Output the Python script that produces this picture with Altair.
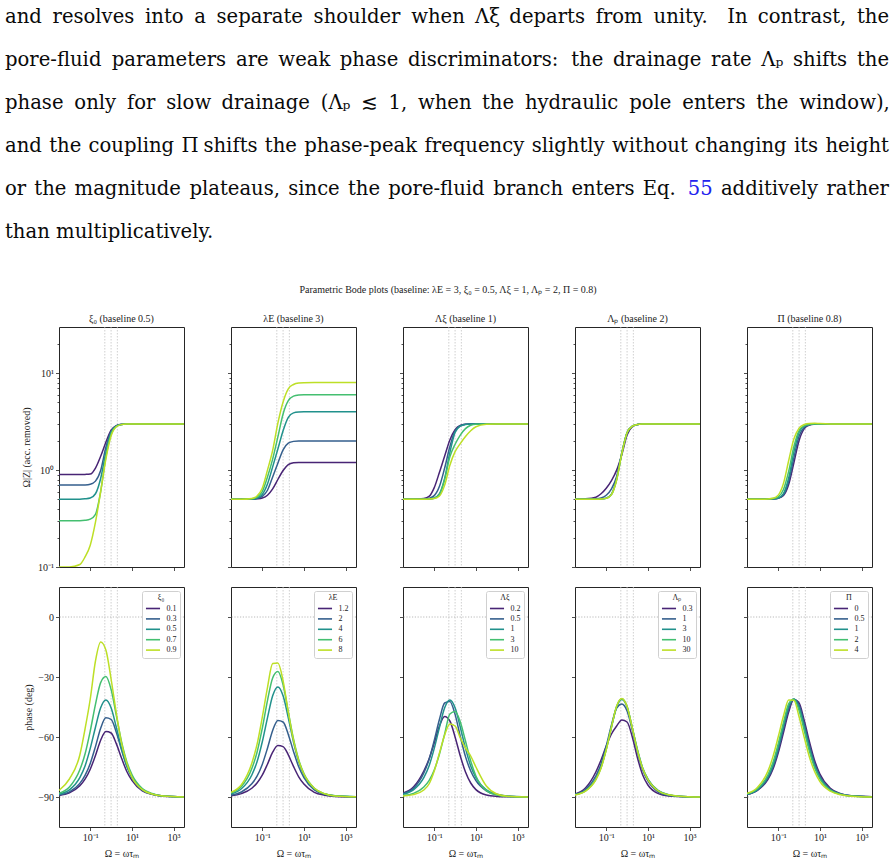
import altair as alt
import pandas as pd

# Frequency grid shared by every curve, Omega = omega * tau_m
OMEGA = [0.00316, 0.01, 0.0316, 0.0562, 0.1, 0.178, 0.316, 0.562, 1.0,
         1.78, 3.16, 5.62, 10.0, 31.6, 100.0, 316.0, 3162.0]

VIRIDIS5 = ["#482475", "#355f8d", "#21918c", "#44bf70", "#bddf26"]
GUIDE_OMEGA = [0.5, 1.0, 2.0]
PHASE_REFS = [0.0, -90.0]
X_TICKS = [0.1, 10.0, 1000.0]
MAG_TICKS = [0.1, 0.2, 0.3, 0.4, 0.5, 0.6, 0.7, 0.8, 0.9,
             1, 2, 3, 4, 5, 6, 7, 8, 9, 10, 20]
PHASE_TICKS = [0, -30, -60, -90]

PARAGRAPH = [
    "and resolves into a separate shoulder when Λξ departs from unity. In contrast, the",
    "pore-fluid parameters are weak phase discriminators: the drainage rate Λₚ shifts the",
    "phase only for slow drainage (Λₚ ≲ 1, when the hydraulic pole enters the window),",
    "and the coupling Π shifts the phase-peak frequency slightly without changing its height",
    "or the magnitude plateaus, since the pore-fluid branch enters Eq. 55 additively rather",
    "than multiplicatively.",
]
EQ_REF = "55"
SUPTITLE = "Parametric Bode plots  (baseline: λE = 3, ξ₀ = 0.5, Λξ = 1, Λₚ = 2, Π = 0.8)"

# --- xi_0 sweep ---
XI0_TITLE = "ξ₀  (baseline 0.5)"
XI0_SYMBOL = "ξ₀"
XI0_LABELS = ["0.1", "0.3", "0.5", "0.7", "0.9"]
XI0_MAG = [
    [0.9, 0.9, 0.9, 0.903, 0.91, 1.05, 1.39, 1.94, 2.58, 2.88, 2.97, 2.99, 3.0, 3.0, 3.0, 3.0, 3.0],
    [0.7, 0.7, 0.7, 0.703, 0.715, 0.77, 0.99, 1.72, 2.5, 2.86, 2.96, 2.99, 3.0, 3.0, 3.0, 3.0, 3.0],
    [0.5, 0.5, 0.5, 0.505, 0.515, 0.57, 0.82, 1.52, 2.45, 2.84, 2.96, 2.99, 3.0, 3.0, 3.0, 3.0, 3.0],
    [0.3, 0.3, 0.3, 0.303, 0.312, 0.35, 0.6, 1.37, 2.35, 2.83, 2.96, 2.99, 3.0, 3.0, 3.0, 3.0, 3.0],
    [0.1, 0.1, 0.106, 0.127, 0.168, 0.29, 0.6, 1.3, 2.25, 2.8, 2.95, 2.99, 3.0, 3.0, 3.0, 3.0, 3.0],
]
XI0_PHASE = [
    [-89.2, -87.9, -84.4, -81.1, -76.1, -69.2, -61.6, -57.3, -58.0, -63.3, -70.5, -77.1, -81.7, -87.0, -88.8, -89.6, -89.9],
    [-89.0, -87.4, -83.2, -79.2, -73.2, -64.8, -55.6, -50.4, -51.2, -57.6, -66.4, -74.4, -80.0, -86.4, -88.6, -89.5, -89.9],
    [-88.6, -86.4, -80.3, -74.5, -65.7, -55.1, -45.4, -41.5, -45.4, -55.1, -65.7, -74.5, -80.3, -86.4, -88.6, -89.5, -90.0],
    [-88.1, -85.0, -76.4, -68.5, -57.0, -43.7, -32.8, -29.8, -36.2, -49.2, -62.2, -72.2, -78.8, -85.8, -88.4, -89.5, -89.9],
    [-86.7, -81.0, -69.0, -56.0, -41.0, -22.0, -12.5, -16.5, -31.0, -48.0, -63.0, -73.0, -80.0, -86.3, -88.6, -89.5, -90.0],
]

# --- lambda_E sweep ---
LAME_TITLE = "λE  (baseline 3)"
LAME_SYMBOL = "λE"
LAME_LABELS = ["1.2", "2", "4", "6", "8"]
LAME_MAG = [
    [0.5, 0.5, 0.5, 0.505, 0.515, 0.55, 0.64, 0.8, 0.99, 1.14, 1.19, 1.2, 1.2, 1.2, 1.2, 1.2, 1.2],
    [0.5, 0.5, 0.502, 0.51, 0.535, 0.62, 0.85, 1.18, 1.62, 1.9, 1.98, 2.0, 2.0, 2.0, 2.0, 2.0, 2.0],
    [0.5, 0.5, 0.503, 0.515, 0.56, 0.72, 1.08, 1.65, 2.55, 3.5, 3.9, 3.98, 4.0, 4.0, 4.0, 4.0, 4.0],
    [0.5, 0.5, 0.505, 0.525, 0.6, 0.85, 1.3, 2.2, 3.8, 5.2, 5.8, 5.96, 6.0, 6.0, 6.0, 6.0, 6.0],
    [0.5, 0.5, 0.51, 0.54, 0.65, 1.0, 1.6, 3.05, 5.05, 6.9, 7.65, 7.92, 7.98, 8.0, 8.0, 8.0, 8.0],
]
LAME_PHASE = [
    [-89.4, -88.3, -85.6, -83.0, -79.1, -73.6, -67.6, -64.3, -64.8, -68.9, -74.7, -79.9, -83.5, -87.7, -89.1, -89.7, -90.0],
    [-89.1, -87.5, -83.4, -79.6, -73.7, -65.6, -56.7, -51.7, -52.5, -58.7, -67.2, -74.9, -80.3, -86.5, -88.6, -89.5, -89.9],
    [-88.5, -85.9, -79.0, -72.4, -62.5, -50.4, -39.4, -35.0, -39.4, -50.4, -62.5, -72.4, -79.0, -85.9, -88.5, -89.4, -89.9],
    [-88.0, -84.8, -75.8, -67.6, -55.7, -41.8, -30.5, -27.3, -33.9, -47.5, -61.0, -71.4, -78.3, -85.6, -88.4, -89.4, -89.9],
    [-87.6, -83.9, -73.1, -63.7, -50.2, -35.3, -23.3, -23.0, -31.9, -47.5, -61.6, -71.8, -78.5, -85.6, -88.4, -89.5, -89.9],
]

# --- Lambda_xi sweep ---
LXI_TITLE = "Λξ  (baseline 1)"
LXI_SYMBOL = "Λξ"
LXI_LABELS = ["0.2", "0.5", "1", "3", "10"]
LXI_MAG = [
    [0.5, 0.5, 0.51, 0.535, 0.66, 0.95, 1.4, 2.05, 2.62, 2.9, 2.98, 3.0, 3.0, 3.0, 3.0, 3.0, 3.0],
    [0.5, 0.5, 0.503, 0.512, 0.545, 0.68, 1.05, 1.75, 2.55, 2.87, 2.97, 2.99, 3.0, 3.0, 3.0, 3.0, 3.0],
    [0.5, 0.5, 0.5, 0.505, 0.515, 0.57, 0.82, 1.52, 2.45, 2.84, 2.96, 2.99, 3.0, 3.0, 3.0, 3.0, 3.0],
    [0.5, 0.5, 0.5, 0.503, 0.512, 0.56, 0.8, 1.37, 1.85, 2.3, 2.68, 2.9, 2.98, 3.0, 3.0, 3.0, 3.0],
    [0.5, 0.5, 0.5, 0.502, 0.508, 0.54, 0.7, 1.12, 1.55, 1.88, 2.22, 2.55, 2.8, 2.97, 3.0, 3.0, 3.0],
]
LXI_PHASE = [
    [-88.0, -85.0, -77.0, -71.0, -63.0, -54.5, -49.8, -52.0, -60.0, -69.5, -77.5, -83.0, -86.3, -89.0, -89.7, -89.9, -90.0],
    [-88.3, -85.7, -78.0, -71.3, -61.7, -51.1, -43.0, -42.2, -48.7, -59.8, -69.8, -77.0, -81.8, -86.9, -88.8, -89.6, -90.0],
    [-88.6, -86.4, -80.3, -74.5, -65.7, -55.1, -45.4, -41.5, -45.4, -55.1, -65.7, -74.5, -80.3, -86.4, -88.6, -89.5, -90.0],
    [-89.3, -88.2, -85.0, -81.8, -76.5, -68.5, -58.5, -48.5, -47.3, -52.5, -62.0, -72.0, -79.5, -86.8, -89.0, -89.7, -90.0],
    [-89.5, -88.8, -86.5, -83.5, -77.0, -68.0, -59.0, -53.5, -54.5, -60.5, -65.5, -69.5, -75.0, -84.5, -88.5, -89.6, -90.0],
]

# --- Lambda_p sweep ---
LP_TITLE = "Λₚ  (baseline 2)"
LP_SYMBOL = "Λₚ"
LP_LABELS = ["0.3", "1", "3", "10", "30"]
LP_MAG = [
    [0.5, 0.505, 0.525, 0.57, 0.65, 0.78, 1.0, 1.45, 2.3, 2.8, 2.95, 2.99, 3.0, 3.0, 3.0, 3.0, 3.0],
    [0.5, 0.5, 0.505, 0.515, 0.55, 0.64, 0.86, 1.5, 2.42, 2.83, 2.96, 2.99, 3.0, 3.0, 3.0, 3.0, 3.0],
    [0.5, 0.5, 0.5, 0.504, 0.514, 0.566, 0.81, 1.51, 2.44, 2.84, 2.96, 2.99, 3.0, 3.0, 3.0, 3.0, 3.0],
    [0.5, 0.5, 0.5, 0.503, 0.512, 0.56, 0.8, 1.5, 2.44, 2.84, 2.96, 2.99, 3.0, 3.0, 3.0, 3.0, 3.0],
    [0.5, 0.5, 0.5, 0.503, 0.511, 0.558, 0.79, 1.49, 2.43, 2.84, 2.96, 2.99, 3.0, 3.0, 3.0, 3.0, 3.0],
]
LP_PHASE = [
    [-88.5, -85.5, -77.5, -71.5, -64.5, -58.5, -54.5, -51.5, -52.5, -60.0, -70.5, -79.0, -84.0, -88.3, -89.5, -89.8, -90.0],
    [-88.7, -86.3, -79.5, -73.5, -64.5, -54.0, -45.5, -43.5, -47.0, -56.5, -67.5, -76.5, -82.0, -87.5, -89.2, -89.7, -90.0],
    [-88.8, -86.8, -80.8, -75.0, -66.0, -55.0, -45.0, -41.3, -45.0, -55.5, -66.5, -75.5, -81.0, -86.8, -88.8, -89.6, -90.0],
    [-88.9, -87.0, -81.2, -75.4, -66.2, -55.0, -44.6, -40.9, -44.8, -55.5, -66.7, -75.7, -81.2, -86.9, -88.9, -89.6, -90.0],
    [-89.0, -87.1, -81.4, -75.6, -66.4, -55.1, -44.5, -40.7, -44.7, -55.5, -66.8, -75.8, -81.3, -87.0, -88.9, -89.6, -90.0],
]

# --- Pi sweep ---
PI_TITLE = "Π  (baseline 0.8)"
PI_SYMBOL = "Π"
PI_LABELS = ["0", "0.5", "1", "2", "4"]
PI_MAG = [
    [0.5, 0.5, 0.501, 0.503, 0.511, 0.547, 0.71, 1.19, 2.02, 2.68, 2.92, 2.98, 3.0, 3.0, 3.0, 3.0, 3.0],
    [0.5, 0.5, 0.5, 0.504, 0.513, 0.558, 0.763, 1.34, 2.23, 2.76, 2.94, 2.99, 3.0, 3.0, 3.0, 3.0, 3.0],
    [0.5, 0.5, 0.5, 0.505, 0.516, 0.573, 0.83, 1.54, 2.46, 2.85, 2.96, 2.99, 3.0, 3.0, 3.0, 3.0, 3.0],
    [0.5, 0.5, 0.502, 0.508, 0.53, 0.631, 0.97, 1.74, 2.56, 2.87, 2.97, 3.0, 3.0, 3.0, 3.0, 3.0, 3.0],
    [0.5, 0.5, 0.504, 0.512, 0.552, 0.73, 1.25, 2.09, 2.71, 2.96, 3.03, 3.04, 3.02, 3.0, 3.0, 3.0, 3.0],
]
PI_PHASE = [
    [-88.8, -86.7, -81.3, -76.0, -67.9, -57.8, -47.5, -41.3, -43.0, -51.9, -62.5, -71.9, -78.5, -85.7, -88.4, -89.4, -89.9],
    [-88.7, -86.6, -80.7, -75.0, -66.6, -56.0, -46.0, -41.1, -44.0, -53.5, -64.2, -73.2, -79.5, -86.1, -88.5, -89.4, -89.9],
    [-88.6, -86.3, -80.0, -74.1, -65.1, -54.3, -44.6, -41.0, -45.3, -55.2, -65.8, -74.6, -80.3, -86.4, -88.6, -89.5, -89.9],
    [-88.4, -85.9, -79.0, -72.6, -63.3, -52.8, -43.4, -41.1, -46.7, -56.9, -67.3, -75.5, -81.0, -86.6, -88.7, -89.5, -89.9],
    [-88.2, -85.2, -77.2, -69.7, -59.9, -49.5, -41.5, -41.6, -49.9, -60.3, -70.1, -77.4, -82.3, -87.1, -88.9, -89.6, -90.0],
]

SWEEPS = [
    (XI0_TITLE, XI0_SYMBOL, XI0_LABELS, XI0_MAG, XI0_PHASE),
    (LAME_TITLE, LAME_SYMBOL, LAME_LABELS, LAME_MAG, LAME_PHASE),
    (LXI_TITLE, LXI_SYMBOL, LXI_LABELS, LXI_MAG, LXI_PHASE),
    (LP_TITLE, LP_SYMBOL, LP_LABELS, LP_MAG, LP_PHASE),
    (PI_TITLE, PI_SYMBOL, PI_LABELS, PI_MAG, PI_PHASE),
]

SERIF = "Liberation Serif"
TEXT_FONT = "DejaVu Serif"
TEXT_SIZE = 19.6
INK = "#222222"
PW, PH = 125, 240
GAP = 47
X_DOMAIN = [10 ** -2.5, 10 ** 3.5]
FRAME = alt.ViewBackground(stroke="#262626", strokeWidth=1)

# Approximate DejaVu Serif advance widths (font units per 2048 em), used to
# justify the prose lines word by word.
ADVANCE = {
    " ": 651, "a": 1220, "b": 1313, "c": 1145, "d": 1313, "e": 1212, "f": 758,
    "g": 1313, "h": 1321, "i": 657, "j": 630, "k": 1262, "l": 657, "m": 1966,
    "n": 1321, "o": 1233, "p": 1313, "q": 1313, "r": 979, "s": 1051, "t": 821,
    "u": 1321, "v": 1163, "w": 1706, "x": 1184, "y": 1163, "z": 1077,
    ",": 651, ".": 651, "-": 695, ":": 690, "(": 799, ")": 799,
    "I": 754, "E": 1386, "Π": 1530, "Λ": 1480, "ξ": 1000, "ₚ": 820, "≲": 1716,
}


def text_width(s):
    return sum(ADVANCE.get(ch, 1303) for ch in s) * TEXT_SIZE / 2048.0


def layout_paragraph(lines, left, right, first_base, leading):
    rows = []
    for li, line in enumerate(lines):
        words = line.split(" ")
        base = first_base + li * leading
        widths = [text_width(w) for w in words]
        weights = []
        for w in words[:-1]:
            weights.append(1.6 if w.endswith(".") else (1.3 if w.endswith(":") else 1.0))
        justify = li < len(lines) - 1
        if justify:
            unit = (right - left - sum(widths)) / sum(weights)
        else:
            unit = text_width(" ")
        x = left
        for wi, w in enumerate(words):
            rows.append({"word": w, "x": x, "y": base, "ref": w == EQ_REF})
            if wi < len(weights):
                x += widths[wi] + unit * weights[wi]
    return pd.DataFrame(rows)


def long_table(labels, curves):
    rows = []
    for lab, vals in zip(labels, curves):
        for om, v in zip(OMEGA, vals):
            rows.append({"label": lab, "omega": om, "val": v})
    return pd.DataFrame(rows)


def x_channel(bottom):
    if bottom:
        axis = alt.Axis(values=X_TICKS, title="Ω = ωτₘ", labelOverlap=False,
                        labelExpr="datum.value < 1 ? '10⁻¹' : (datum.value < 100 ? '10¹' : '10³')",
                        tickSize=3.5, titlePadding=6)
    else:
        axis = alt.Axis(values=X_TICKS, labels=False, title="", tickSize=3.5)
    return alt.X("omega:Q", scale=alt.Scale(type="log", domain=X_DOMAIN, nice=False), axis=axis)


def guide_lines():
    return alt.Chart(pd.DataFrame({"omega": GUIDE_OMEGA})).mark_rule(
        color="#c4c4c4", strokeWidth=0.8, strokeDash=[1.5, 1.5]
    ).encode(x=alt.X("omega:Q", scale=alt.Scale(type="log", domain=X_DOMAIN, nice=False)))


def mag_panel(title, labels, curves, first):
    major = "datum.value === 0.1 || datum.value === 1 || datum.value === 10"
    axis = alt.Axis(
        values=MAG_TICKS,
        labels=first,
        labelOverlap=False,
        labelExpr="datum.value === 0.1 ? '10⁻¹' : (datum.value === 1 ? '10⁰' : (datum.value === 10 ? '10¹' : ''))",
        tickSize={"condition": {"test": major, "value": 3.5}, "value": 2},
        title="Ω|Z| (acc. removed)" if first else "",
        titlePadding=6,
    )
    lines = alt.Chart(long_table(labels, curves)).mark_line(
        strokeWidth=1.5, clip=True, interpolate="monotone"
    ).encode(
        x=x_channel(False),
        y=alt.Y("val:Q", scale=alt.Scale(type="log", domain=[0.1, 30], nice=False), axis=axis),
        color=alt.Color("label:N", scale=alt.Scale(domain=labels, range=VIRIDIS5), legend=None),
    )
    return alt.layer(guide_lines(), lines).properties(
        width=PW, height=PH, title=title, view=FRAME
    )


def phase_panel(symbol, labels, curves, first):
    axis = alt.Axis(
        values=PHASE_TICKS,
        labels=first,
        labelExpr="replace(datum.label, '-', '−')",
        title="phase (deg)" if first else "",
        titlePadding=4,
        tickSize=3.5,
    )
    yscale = alt.Scale(domain=[-105, 15], nice=False, zero=False)
    refs = alt.Chart(pd.DataFrame({"val": PHASE_REFS})).mark_rule(
        color="#a8a8a8", strokeWidth=0.8, strokeDash=[1.2, 1.6]
    ).encode(y=alt.Y("val:Q", scale=yscale))
    # a wide horizontal dash as the legend key; the row height follows the
    # symbol size, so the key is drawn 1.5x wider than its layout box
    legend = alt.Legend(
        title=symbol, orient="top-right", offset=4, fillColor="white",
        strokeColor="#d0d0d0", padding=3, cornerRadius=2,
        symbolType="M-1.5,0L1.5,0", symbolSize=88, symbolOffset=2.5,
        symbolStrokeWidth=1.6, labelFontSize=8, titleFontSize=8,
        titleFontWeight="normal", labelFont=SERIF, titleFont=SERIF,
        rowPadding=0.4, titlePadding=1, labelOffset=8, titleAnchor="middle",
        labelColor=INK, titleColor=INK,
    )
    lines = alt.Chart(long_table(labels, curves)).mark_line(
        strokeWidth=1.5, clip=True, interpolate="monotone"
    ).encode(
        x=x_channel(True),
        y=alt.Y("val:Q", scale=yscale, axis=axis),
        color=alt.Color("label:N", scale=alt.Scale(domain=labels, range=VIRIDIS5), legend=legend),
    )
    return alt.layer(refs, guide_lines(), lines).properties(
        width=PW, height=PH, view=FRAME
    )


# Prose block and figure heading above the panel grid (pixel-identity scales)
GRID_W = 5 * PW + 4 * GAP
words = layout_paragraph(PARAGRAPH, left=-54, right=830, first_base=22, leading=43)
px = alt.Scale(domain=[0, 1], range=[0, 1])
word_x = alt.X("x:Q", scale=px, axis=None)
word_y = alt.Y("y:Q", scale=px, axis=None)

prose = alt.Chart(words).transform_filter("!datum.ref").mark_text(
    align="left", baseline="alphabetic", font=TEXT_FONT, fontSize=TEXT_SIZE, color="#0a0a0a"
).encode(x=word_x, y=word_y, text="word:N")
eq_ref = alt.Chart(words).transform_filter("datum.ref").mark_text(
    align="left", baseline="alphabetic", font=TEXT_FONT, fontSize=TEXT_SIZE, color="#2323ee"
).encode(x=word_x, y=word_y, text="word:N")
heading = alt.Chart(pd.DataFrame({"text": [SUPTITLE]})).mark_text(
    align="center", baseline="alphabetic", font=SERIF, fontSize=10, color=INK
).encode(x=alt.value(389), y=alt.value(292), text="text:N")

header = alt.layer(prose, eq_ref, heading).properties(
    width=GRID_W, height=306, view=alt.ViewBackground(stroke="transparent")
)

panels = [mag_panel(t, lab, mag, i == 0) for i, (t, s, lab, mag, ph) in enumerate(SWEEPS)]
panels += [phase_panel(s, lab, ph, i == 0) for i, (t, s, lab, mag, ph) in enumerate(SWEEPS)]

grid = alt.concat(
    *panels, columns=5, spacing=alt.RowColnumber(row=20, column=GAP), bounds="flush"
).resolve_scale(color="independent").resolve_legend(color="independent")

chart = alt.vconcat(header, grid, spacing=20, bounds="flush").resolve_scale(
    color="independent"
).properties(
    padding={"left": 4, "top": 0, "right": 0, "bottom": 0}, background="white"
).configure_axis(
    labelFont=SERIF, titleFont=SERIF, labelFontSize=10, titleFontSize=10,
    titleFontWeight="normal", tickColor=INK, labelColor=INK, titleColor=INK,
    domain=False, grid=False, tickWidth=0.8, labelPadding=2,
).configure_title(
    font=SERIF, fontSize=10, fontWeight="normal", color=INK, offset=3
)

chart.save("out.html", embed_options={"renderer": "svg", "actions": False})
